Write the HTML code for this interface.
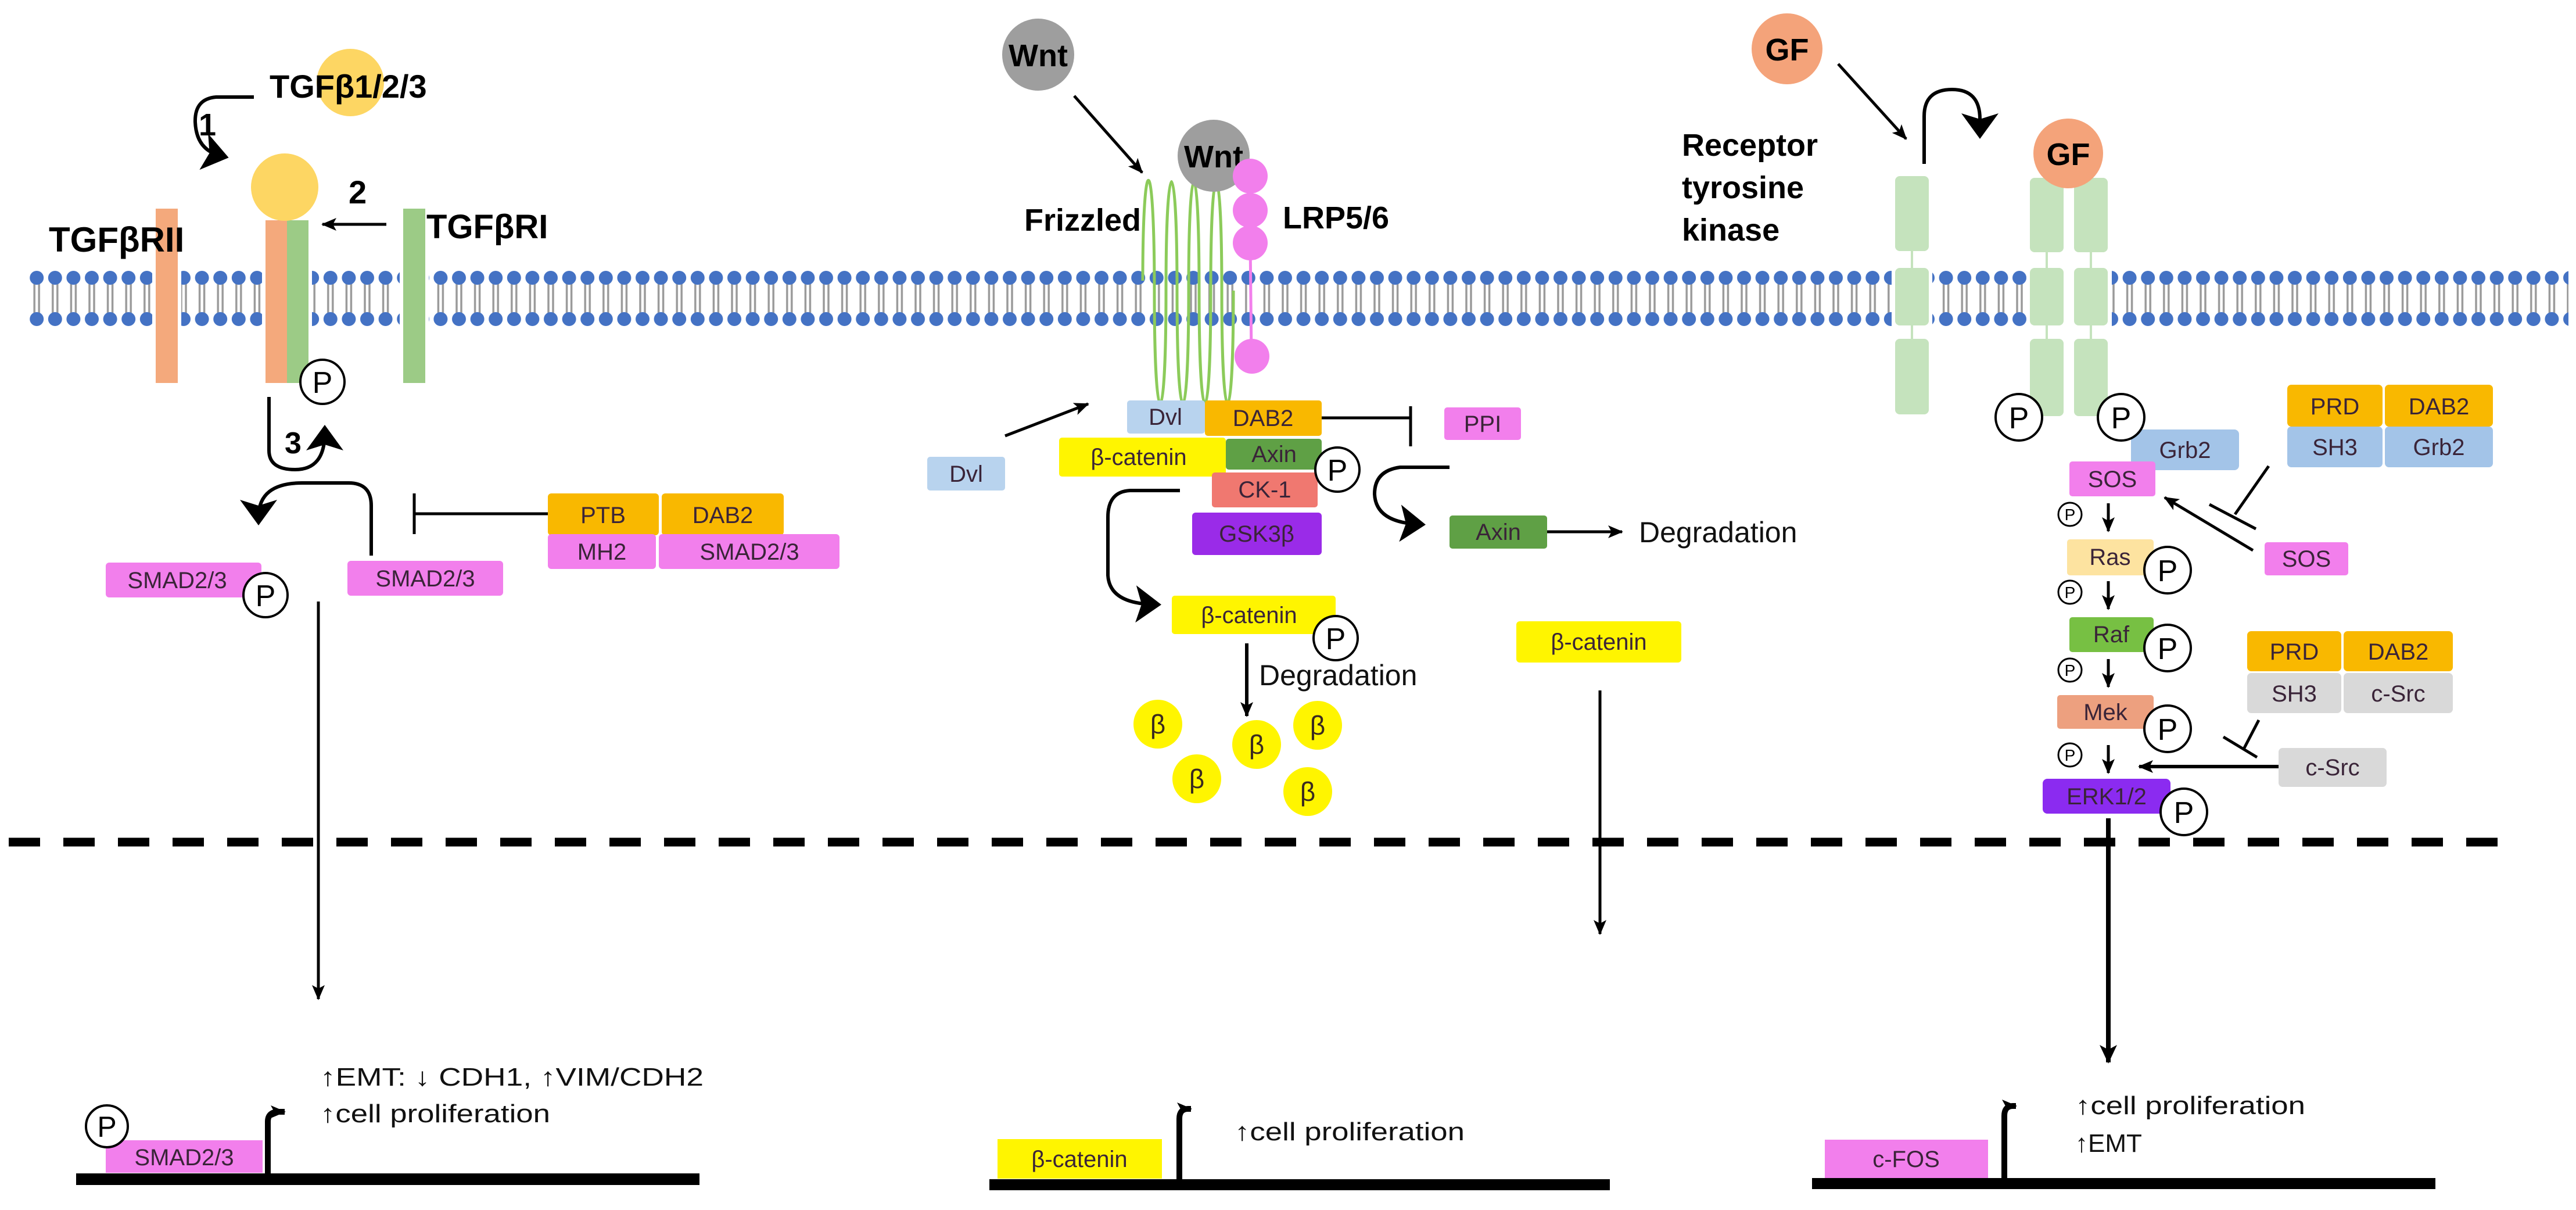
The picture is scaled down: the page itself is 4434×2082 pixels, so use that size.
<!DOCTYPE html>
<html><head><meta charset="utf-8"><style>
html,body{margin:0;padding:0;background:#fff;}
svg{display:block;}
text{font-family:"Liberation Sans",Arial,sans-serif;}
.b{font-weight:bold;fill:#000;}
.lb{fill:#3a2438;font-size:40px;text-anchor:middle;}
.t{fill:#111;font-size:44px;}
</style></head><body>
<svg width="4434" height="2082" viewBox="0 0 4434 2082" xmlns="http://www.w3.org/2000/svg">
<defs>
<marker id="ah" markerUnits="userSpaceOnUse" markerWidth="34" markerHeight="30" refX="30" refY="15" orient="auto"><path d="M0,0 L32,15 L0,30 L8,15 Z" fill="#000"/></marker>
<marker id="ahs" markerUnits="userSpaceOnUse" markerWidth="26" markerHeight="22" refX="24" refY="11" orient="auto"><path d="M0,0 L26,11 L0,22 L6,11 Z" fill="#000"/></marker>
<marker id="ahb" markerUnits="userSpaceOnUse" markerWidth="60" markerHeight="64" refX="30" refY="32" orient="auto"><path d="M0,0 L44,32 L0,64 L10,32 Z" fill="#000"/></marker>
<pattern id="mem" patternUnits="userSpaceOnUse" x="47.4" y="0" width="31.6" height="2082">
<line x1="11.8" y1="478" x2="11.8" y2="549" stroke="#9a9a9a" stroke-width="3.5"/>
<line x1="19.8" y1="478" x2="19.8" y2="549" stroke="#9a9a9a" stroke-width="3.5"/>
<circle cx="15.8" cy="478" r="12" fill="#4472C4"/>
<circle cx="15.8" cy="549" r="12" fill="#4472C4"/>
</pattern>
</defs>

<!-- membrane -->
<rect x="46" y="460" width="4375" height="105" fill="url(#mem)"/>

<!-- dashed nuclear line -->
<line x1="15" y1="1449" x2="4320" y2="1449" stroke="#000" stroke-width="15" stroke-dasharray="54 40"/>

<!-- ================= LEFT: TGFb ================= -->
<circle cx="603" cy="142" r="58" fill="#FDD663"/>
<text x="464" y="168" class="b" font-size="56">TGFβ1/2/3</text>
<path d="M437,167 L372,167 Q335,170 336,210 Q338,258 380,268" fill="none" stroke="#000" stroke-width="6" marker-end="url(#ahb)"/>
<text x="342" y="233" class="b" font-size="54">1</text>

<rect x="262" y="356" width="50" height="306" fill="#fff"/>
<rect x="268" y="359" width="38" height="300" fill="#F4A97C"/>
<text x="84" y="433" class="b" font-size="60">TGFβRII</text>

<rect x="451" y="376" width="86" height="286" fill="#fff"/>
<rect x="457" y="379" width="37" height="280" fill="#F4A97C"/>
<rect x="494" y="379" width="37" height="280" fill="#9CCB86"/>
<circle cx="490" cy="322" r="58" fill="#FDD663"/>
<text x="600" y="350" class="b" font-size="56">2</text>
<line x1="665" y1="386" x2="555" y2="386" stroke="#000" stroke-width="5" marker-end="url(#ahs)"/>

<rect x="688" y="356" width="50" height="306" fill="#fff"/>
<rect x="694" y="359" width="38" height="300" fill="#9CCB86"/>
<text x="734" y="410" class="b" font-size="58">TGFβRI</text>

<circle cx="555" cy="657" r="38" fill="#fff" stroke="#000" stroke-width="4"/>
<text x="555" y="676" font-size="52" text-anchor="middle">P</text>

<path d="M463,683 L463,775 Q463,808 508,808 Q559,808 559,745" fill="none" stroke="#000" stroke-width="6" marker-end="url(#ahb)"/>
<text x="490" y="780" class="b" font-size="52">3</text>

<path d="M639,956 L639,870 Q639,831 600,831 L520,831 Q445,831 445,890" fill="none" stroke="#000" stroke-width="6" marker-end="url(#ahb)"/>
<line x1="943" y1="884" x2="713" y2="884" stroke="#000" stroke-width="5"/>
<line x1="713" y1="849" x2="713" y2="919" stroke="#000" stroke-width="5"/>

<rect x="943" y="849" width="191" height="72" rx="6" fill="#F9B800"/>
<rect x="1139" y="849" width="210" height="72" rx="6" fill="#F9B800"/>
<rect x="943" y="919" width="186" height="60" rx="6" fill="#F27FEC"/>
<rect x="1134" y="919" width="311" height="60" rx="6" fill="#F27FEC"/>
<text x="1038" y="900" class="lb">PTB</text>
<text x="1244" y="900" class="lb">DAB2</text>
<text x="1036" y="963" class="lb">MH2</text>
<text x="1290" y="963" class="lb">SMAD2/3</text>

<rect x="182" y="968" width="268" height="60" rx="6" fill="#F27FEC"/>
<text x="305" y="1012" class="lb">SMAD2/3</text>
<circle cx="457" cy="1024" r="38" fill="#fff" stroke="#000" stroke-width="4"/>
<text x="457" y="1043" font-size="52" text-anchor="middle">P</text>
<rect x="598" y="965" width="268" height="60" rx="6" fill="#F27FEC"/>
<text x="732" y="1009" class="lb">SMAD2/3</text>

<line x1="548" y1="1035" x2="548" y2="1719" stroke="#000" stroke-width="5" marker-end="url(#ahs)"/>

<rect x="182" y="1962" width="270" height="56" fill="#F27FEC"/>
<text x="317" y="2005" class="lb" font-size="38">SMAD2/3</text>
<rect x="131" y="2019" width="1073" height="20" fill="#000"/>
<circle cx="184" cy="1938" r="36" fill="#fff" stroke="#000" stroke-width="4"/>
<text x="184" y="1956" font-size="50" text-anchor="middle">P</text>
<path d="M461,2022 L461,1930 Q461,1913 480,1913 L490,1913" fill="none" stroke="#000" stroke-width="10" marker-end="url(#ahs)"/>
<text x="551" y="1868" class="t" textLength="660" lengthAdjust="spacingAndGlyphs">↑EMT: ↓ CDH1, ↑VIM/CDH2</text>
<text x="551" y="1931" class="t" textLength="396" lengthAdjust="spacingAndGlyphs">↑cell proliferation</text>

<!-- ================= MIDDLE: Wnt ================= -->
<circle cx="1787" cy="94" r="62" fill="#9E9E9E"/>
<text x="1787" y="114" class="b" font-size="54" text-anchor="middle">Wnt</text>
<line x1="1849" y1="165" x2="1966" y2="297" stroke="#000" stroke-width="5" marker-end="url(#ahs)"/>

<path d="M1967,483 C1967,250 1987,250 1987,500 C1987,760 2007,760 2007,500 C2007,250 2026,250 2026,500 C2026,760 2046,760 2046,500 C2046,250 2064,250 2064,500 C2064,760 2084,760 2084,500 C2084,250 2103,250 2103,500 C2103,760 2123,760 2123,500" fill="none" stroke="#8CCB5A" stroke-width="5"/>
<circle cx="2089" cy="268" r="62" fill="#9E9E9E"/>
<text x="2089" y="288" class="b" font-size="54" text-anchor="middle">Wnt</text>
<line x1="2152" y1="418" x2="2154" y2="613" stroke="#F27FEC" stroke-width="5"/>
<circle cx="2152" cy="303" r="30" fill="#F27FEC"/>
<circle cx="2152" cy="362" r="30" fill="#F27FEC"/>
<circle cx="2152" cy="418" r="30" fill="#F27FEC"/>
<circle cx="2155" cy="613" r="30" fill="#F27FEC"/>
<text x="1763" y="397" class="b" font-size="54">Frizzled</text>
<text x="2208" y="393" class="b" font-size="54">LRP5/6</text>

<rect x="1940" y="689" width="134" height="57" rx="5" fill="#B8D3EE"/>
<text x="2006" y="731" class="lb">Dvl</text>
<rect x="2074" y="689" width="201" height="61" rx="5" fill="#F9B800"/>
<text x="2174" y="733" class="lb">DAB2</text>
<rect x="1823" y="753" width="287" height="67" rx="5" fill="#FFF500"/>
<text x="1960" y="800" class="lb">β-catenin</text>
<rect x="2110" y="755" width="165" height="53" rx="5" fill="#5FA045"/>
<text x="2193" y="795" class="lb">Axin</text>
<rect x="2086" y="813" width="182" height="60" rx="5" fill="#F07870"/>
<text x="2177" y="856" class="lb">CK-1</text>
<rect x="2052" y="882" width="223" height="73" rx="6" fill="#9A2BE8"/>
<text x="2163" y="932" class="lb">GSK3β</text>
<circle cx="2302" cy="808" r="38" fill="#fff" stroke="#000" stroke-width="4"/>
<text x="2302" y="827" font-size="52" text-anchor="middle">P</text>

<rect x="1596" y="786" width="134" height="58" rx="5" fill="#B8D3EE"/>
<text x="1663" y="829" class="lb">Dvl</text>
<line x1="1730" y1="750" x2="1873" y2="695" stroke="#000" stroke-width="5" marker-end="url(#ahs)"/>

<line x1="2275" y1="719" x2="2428" y2="719" stroke="#000" stroke-width="5"/>
<line x1="2428" y1="699" x2="2428" y2="768" stroke="#000" stroke-width="5"/>
<rect x="2486" y="701" width="132" height="56" rx="5" fill="#F27FEC"/>
<text x="2552" y="743" class="lb">PPI</text>

<path d="M2495,804 L2410,804 Q2366,810 2366,850 Q2368,898 2440,902" fill="none" stroke="#000" stroke-width="6" marker-end="url(#ahb)"/>
<rect x="2495" y="887" width="168" height="57" rx="5" fill="#5FA045"/>
<text x="2579" y="929" class="lb">Axin</text>
<line x1="2663" y1="915" x2="2792" y2="915" stroke="#000" stroke-width="5" marker-end="url(#ahs)"/>
<text x="2821" y="933" font-size="50" fill="#111">Degradation</text>

<path d="M2031,844 L1945,844 Q1907,846 1907,890 L1907,990 Q1910,1038 1985,1040" fill="none" stroke="#000" stroke-width="6" marker-end="url(#ahb)"/>
<rect x="2017" y="1025" width="282" height="66" rx="5" fill="#FFF500"/>
<text x="2150" y="1072" class="lb">β-catenin</text>
<circle cx="2299" cy="1098" r="38" fill="#fff" stroke="#000" stroke-width="4"/>
<text x="2299" y="1117" font-size="52" text-anchor="middle">P</text>
<line x1="2146" y1="1107" x2="2146" y2="1232" stroke="#000" stroke-width="6" marker-end="url(#ahs)"/>
<text x="2167" y="1179" font-size="50" fill="#111">Degradation</text>
<g fill="#FFF500"><circle cx="1993" cy="1246" r="42"/><circle cx="2163" cy="1281" r="42"/><circle cx="2268" cy="1248" r="42"/><circle cx="2060" cy="1340" r="42"/><circle cx="2251" cy="1362" r="42"/></g>
<g font-size="46" fill="#3a2a20" text-anchor="middle"><text x="1993" y="1262">β</text><text x="2163" y="1297">β</text><text x="2268" y="1264">β</text><text x="2060" y="1356">β</text><text x="2251" y="1378">β</text></g>

<rect x="2610" y="1069" width="284" height="71" rx="6" fill="#FFF500"/>
<text x="2752" y="1118" class="lb">β-catenin</text>
<line x1="2754" y1="1188" x2="2754" y2="1607" stroke="#000" stroke-width="5" marker-end="url(#ahs)"/>

<rect x="1717" y="1960" width="283" height="68" fill="#FFF500"/>
<text x="1858" y="2008" class="lb" font-size="38">β-catenin</text>
<rect x="1703" y="2029" width="1068" height="19" fill="#000"/>
<path d="M2030,2032 L2030,1925 Q2030,1908 2045,1908 L2050,1908" fill="none" stroke="#000" stroke-width="10" marker-end="url(#ahs)"/>
<text x="2125" y="1962" class="t" textLength="396" lengthAdjust="spacingAndGlyphs">↑cell proliferation</text>

<!-- ================= RIGHT: RTK ================= -->
<circle cx="3076" cy="84" r="61" fill="#F4A37A"/>
<text x="3076" y="104" class="b" font-size="54" text-anchor="middle">GF</text>
<line x1="3164" y1="110" x2="3281" y2="239" stroke="#000" stroke-width="5" marker-end="url(#ahs)"/>
<text x="2895" y="268" class="b" font-size="54">Receptor</text>
<text x="2895" y="341" class="b" font-size="54">tyrosine</text>
<text x="2895" y="414" class="b" font-size="54">kinase</text>
<path d="M3312,282 L3312,200 Q3312,154 3360,154 Q3408,154 3408,205 L3408,225" fill="none" stroke="#000" stroke-width="6" marker-end="url(#ahb)"/>

<g fill="#C5E3BD">
<rect x="3256" y="458" width="70" height="106" fill="#fff"/>
<rect x="3262" y="303" width="58" height="129" rx="8"/><rect x="3262" y="461" width="58" height="99" rx="8"/><rect x="3262" y="583" width="58" height="130" rx="8"/>
<rect x="3488" y="458" width="147" height="106" fill="#fff"/>
<rect x="3494" y="306" width="58" height="128" rx="8"/><rect x="3494" y="461" width="58" height="99" rx="8"/><rect x="3494" y="583" width="58" height="133" rx="8"/>
<rect x="3570" y="306" width="58" height="128" rx="8"/><rect x="3570" y="461" width="58" height="99" rx="8"/><rect x="3570" y="583" width="58" height="133" rx="8"/>
</g>
<g stroke="#C5E3BD" stroke-width="4"><line x1="3291" y1="432" x2="3291" y2="461"/><line x1="3291" y1="560" x2="3291" y2="583"/><line x1="3523" y1="434" x2="3523" y2="461"/><line x1="3523" y1="560" x2="3523" y2="583"/><line x1="3599" y1="434" x2="3599" y2="461"/><line x1="3599" y1="560" x2="3599" y2="583"/></g>
<circle cx="3560" cy="264" r="60" fill="#F4A37A"/>
<text x="3560" y="284" class="b" font-size="54" text-anchor="middle">GF</text>

<circle cx="3475" cy="718" r="40" fill="#fff" stroke="#000" stroke-width="4"/>
<text x="3475" y="737" font-size="52" text-anchor="middle">P</text>
<rect x="3668" y="739" width="186" height="70" rx="8" fill="#A3C4E8"/>
<text x="3761" y="788" class="lb">Grb2</text>
<circle cx="3651" cy="718" r="40" fill="#fff" stroke="#000" stroke-width="4"/>
<text x="3651" y="737" font-size="52" text-anchor="middle">P</text>
<rect x="3562" y="794" width="148" height="60" rx="5" fill="#F27FEC"/>
<text x="3636" y="838" class="lb">SOS</text>

<rect x="3558" y="928" width="149" height="62" rx="5" fill="#FDE3A0"/>
<text x="3632" y="972" class="lb">Ras</text>
<rect x="3562" y="1062" width="145" height="60" rx="5" fill="#77C043"/>
<text x="3634" y="1105" class="lb">Raf</text>
<rect x="3541" y="1196" width="166" height="58" rx="5" fill="#EDA07F"/>
<text x="3624" y="1239" class="lb">Mek</text>
<rect x="3516" y="1340" width="220" height="60" rx="8" fill="#8B2BF0"/>
<text x="3626" y="1384" class="lb">ERK1/2</text>

<g fill="#fff" stroke="#000" stroke-width="4">
<circle cx="3731" cy="981" r="40"/><circle cx="3731" cy="1115" r="40"/><circle cx="3731" cy="1254" r="40"/><circle cx="3759" cy="1397" r="40"/>
</g>
<g font-size="52" text-anchor="middle"><text x="3731" y="1000">P</text><text x="3731" y="1134">P</text><text x="3731" y="1273">P</text><text x="3759" y="1416">P</text></g>
<g fill="#fff" stroke="#000" stroke-width="3">
<circle cx="3563" cy="885" r="20"/><circle cx="3563" cy="1019" r="20"/><circle cx="3563" cy="1153" r="20"/><circle cx="3563" cy="1299" r="20"/>
</g>
<g font-size="28" text-anchor="middle"><text x="3563" y="895">P</text><text x="3563" y="1029">P</text><text x="3563" y="1163">P</text><text x="3563" y="1309">P</text></g>
<g stroke="#000" stroke-width="5">
<line x1="3629" y1="866" x2="3629" y2="914" marker-end="url(#ahs)"/>
<line x1="3629" y1="1000" x2="3629" y2="1048" marker-end="url(#ahs)"/>
<line x1="3629" y1="1134" x2="3629" y2="1182" marker-end="url(#ahs)"/>
<line x1="3629" y1="1282" x2="3629" y2="1330" marker-end="url(#ahs)"/>
</g>

<rect x="3937" y="662" width="164" height="72" rx="7" fill="#F9B800"/>
<rect x="4105" y="662" width="186" height="72" rx="7" fill="#F9B800"/>
<rect x="3937" y="734" width="164" height="70" rx="7" fill="#A3C4E8"/>
<rect x="4105" y="734" width="186" height="70" rx="7" fill="#A3C4E8"/>
<text x="4019" y="713" class="lb">PRD</text>
<text x="4198" y="713" class="lb">DAB2</text>
<text x="4019" y="783" class="lb">SH3</text>
<text x="4198" y="783" class="lb">Grb2</text>

<line x1="3905" y1="802" x2="3847" y2="885" stroke="#000" stroke-width="5"/>
<line x1="3803" y1="868" x2="3883" y2="910" stroke="#000" stroke-width="5"/>
<line x1="3878" y1="947" x2="3726" y2="856" stroke="#000" stroke-width="5" marker-end="url(#ahs)"/>
<rect x="3898" y="933" width="144" height="57" rx="5" fill="#F27FEC"/>
<text x="3970" y="975" class="lb">SOS</text>

<rect x="3868" y="1086" width="162" height="69" rx="7" fill="#F9B800"/>
<rect x="4034" y="1086" width="188" height="69" rx="7" fill="#F9B800"/>
<rect x="3868" y="1158" width="162" height="69" rx="7" fill="#D9D9D9"/>
<rect x="4034" y="1158" width="188" height="69" rx="7" fill="#D9D9D9"/>
<text x="3949" y="1135" class="lb">PRD</text>
<text x="4128" y="1135" class="lb">DAB2</text>
<text x="3949" y="1207" class="lb" fill="#333">SH3</text>
<text x="4128" y="1207" class="lb" fill="#333">c-Src</text>

<line x1="3888" y1="1239" x2="3863" y2="1287" stroke="#000" stroke-width="5"/>
<line x1="3827" y1="1268" x2="3885" y2="1303" stroke="#000" stroke-width="5"/>
<rect x="3922" y="1287" width="186" height="67" rx="7" fill="#D9D9D9"/>
<text x="4015" y="1334" class="lb" fill="#333">c-Src</text>
<line x1="3922" y1="1319" x2="3682" y2="1319" stroke="#000" stroke-width="6" marker-end="url(#ahs)"/>

<line x1="3629" y1="1408" x2="3629" y2="1828" stroke="#000" stroke-width="8" marker-end="url(#ah)"/>

<rect x="3141" y="1961" width="281" height="66" fill="#F27FEC"/>
<text x="3281" y="2008" class="lb" font-size="38">c-FOS</text>
<rect x="3119" y="2027" width="1073" height="19" fill="#000"/>
<path d="M3450,2030 L3450,1920 Q3450,1903 3465,1903 L3470,1903" fill="none" stroke="#000" stroke-width="10" marker-end="url(#ahs)"/>
<text x="3572" y="1917" class="t" textLength="396" lengthAdjust="spacingAndGlyphs">↑cell proliferation</text>
<text x="3572" y="1982" class="t">↑EMT</text>
</svg>
</body></html>
